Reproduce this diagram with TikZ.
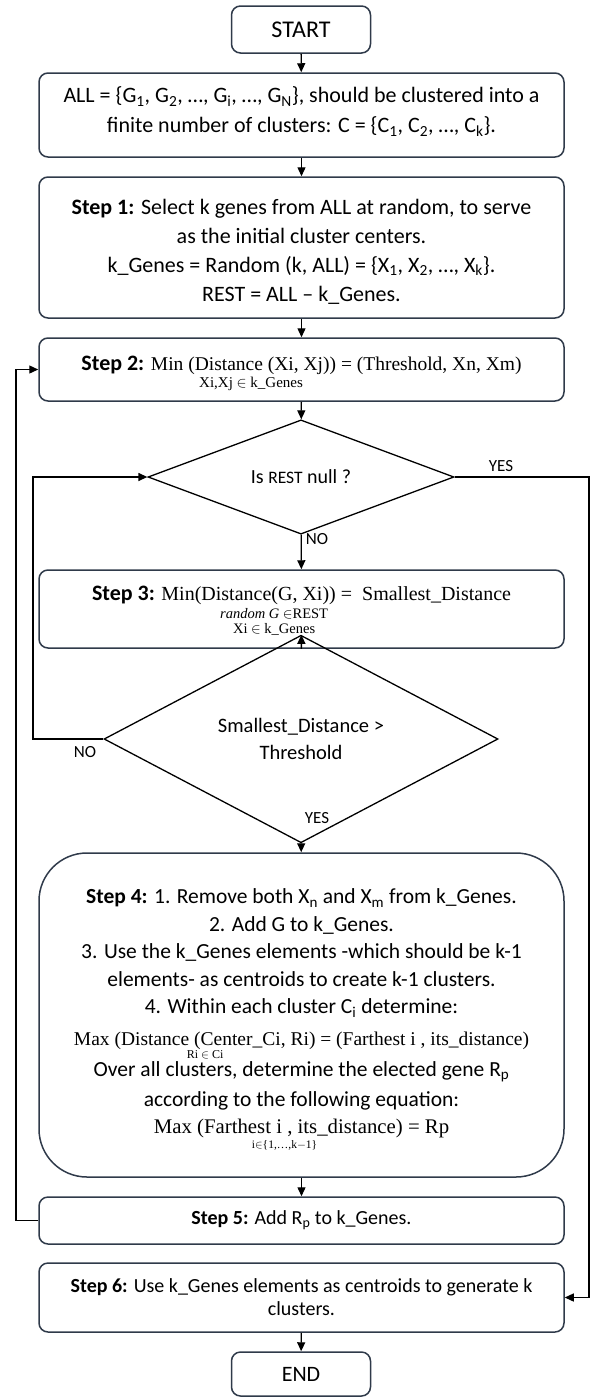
\RequirePackage{fix-cm}
\documentclass[tikz,border=0pt]{standalone}
\usepackage{mathtools}
\usepackage[no-math]{fontspec}
\setmainfont{Carlito}
\newfontfamily\eqfont{Liberation Serif}
\usetikzlibrary{shapes.geometric,arrows.meta}

\definecolor{boxline}{RGB}{47,58,74}

% formulas in a Cambria-like serif
\newcommand{\eqline}[2][19.5]{{\eqfont\fontsize{#1}{22}\selectfont #2}}
\newcommand{\limtext}[2]{\text{\fontsize{#1}{14.5}\selectfont #2}}

\tikzset{
  box/.style={draw=boxline, line width=1.5pt, rounded corners=9pt, minimum width=525pt,
    inner sep=0pt, align=center, font=\fontsize{22}{29}\selectfont},
  term/.style={box, minimum width=139pt, minimum height=47pt},
  decide/.style={diamond, draw, line width=1.3pt, inner sep=0pt, align=center,
    font=\fontsize{20}{26}\selectfont},
  link/.style={line width=1.3pt, -{Triangle[length=9pt,width=8pt]}},
  tag/.style={font=\fontsize{17}{17}\selectfont, inner sep=0pt}
}

\begin{document}
\begin{tikzpicture}[x=1pt,y=-1pt]
  \useasboundingbox (0,0) rectangle (595,1398);

  % Terminals and steps
  \node[term, font=\fontsize{24}{24}\selectfont] (start) at (301,29.5) {START};
  \node[box, minimum height=84pt, font=\fontsize{22}{30}\selectfont] (all) at (301.5,115)
    {ALL = \{G\textsubscript{1}, G\textsubscript{2}, …, G\textsubscript{i}, …, G\textsubscript{N}\}, should be clustered into a\\
     finite number of clusters: C = \{C\textsubscript{1}, C\textsubscript{2}, …, C\textsubscript{k}\}.\rule[-10pt]{0pt}{0pt}};
  \node[box, minimum height=141pt] (step1) at (301.5,247.5)
    {\rule{0pt}{24pt}\textbf{Step 1:} Select k genes from ALL at random, to serve\\
     as the initial cluster centers.\\
     k\_Genes = Random (k, ALL) = \{X\textsubscript{1}, X\textsubscript{2}, …, X\textsubscript{k}\}.\\
     REST = ALL – k\_Genes.};
  \node[box, minimum height=63pt] (step2) at (301.5,369.5)
    {\rule{0pt}{24pt}\textbf{Step 2:} \eqline{$\mathop{\text{Min}}\limits_{\mathrlap{\hspace{32pt}\limtext{15}{\rule{0pt}{13pt}Xi,Xj $\in$ k\_Genes}}}$ (Distance (Xi, Xj)) = (Threshold, Xn, Xm)}};

  % Is REST null ?
  \node[decide, minimum width=306pt, minimum height=82pt] (dec1) at (301,477)
    {Is {\fontsize{17.5}{17.5}\selectfont REST} null ?};

  \node[box, minimum height=78pt] (step3) at (301.5,609)
    {\rule{0pt}{22pt}\textbf{Step 3:} \eqline[20]{$\mathop{\text{Min}}\limits_{\mathrlap{\hspace{42pt}\limtext{14.5}{\rule{0pt}{15pt}\begin{tabular}[t]{@{}c@{}}{\itshape random G} $\in$REST\\ Xi $\in$ k\_Genes\end{tabular}}}}$(Distance(G, Xi)) = \ Smallest\_Distance}};

  % Smallest_Distance > Threshold
  \node[decide, minimum width=394pt, minimum height=128pt, font=\fontsize{20.5}{27}\selectfont] (dec2) at (301,739)
    {Smallest\_Distance >\\ Threshold};

  \node[box, rounded corners=48pt, minimum height=324pt, font=\fontsize{21.5}{27.5}\selectfont] (step4) at (301.5,1015)
    {\rule{0pt}{26pt}\textbf{Step 4:} 1. Remove both X\textsubscript{n} and X\textsubscript{m} from k\_Genes.\\
     2. Add G to k\_Genes.\\
     3. Use the k\_Genes elements -which should be k-1\\
     elements- as centroids to create k-1 clusters.\\
     4. Within each cluster C\textsubscript{i} determine:\\[4pt]
     \eqline{$\mathop{\text{Max}}\limits_{\mathrlap{\hspace{95pt}\limtext{12}{Ri $\in$ Ci}}}$ (Distance (Center\_Ci, Ri) = (Farthest i , its\_distance)}\\[0pt]
     Over all clusters, determine the elected gene R\textsubscript{p}\\[2pt]
     according to the following equation:\\
     \eqline[20.8]{$\mathop{\text{Max}}\limits_{\mathrlap{\hspace{79pt}\limtext{11.5}{\rule{0pt}{11pt}i$\in$\{1,…,k$-$1\}}}}$ (Farthest i , its\_distance) = Rp}};
  \node[box, minimum height=47pt, font=\fontsize{20}{24}\selectfont] (step5) at (301.5,1220.5)
    {\textbf{Step 5:} Add R\textsubscript{p} to k\_Genes.};
  \node[box, minimum height=69pt, font=\fontsize{20}{23}\selectfont] (step6) at (301.5,1297.5)
    {\textbf{Step 6:} Use k\_Genes elements as centroids to generate k\\ clusters.};
  \node[term, minimum height=44pt] (end) at (301,1374) {END};

  % Loop lines
  \coordinate (lout) at (16,0);
  \coordinate (lin) at (33,0);
  \coordinate (rout) at (589,0);

  % Arrows down the middle
  \draw[link] (start) -- (all);
  \draw[link] (all) -- (step1);
  \draw[link] (step1) -- (step2);
  \draw[link] (step2) -- (dec1);
  \draw[link] (dec1) -- (step3);
  \draw[link] (step3) -- (dec2);
  \draw[link] (dec2) -- (step4);
  \draw[link] (step4) -- (step5);
  \draw[link] (step6) -- (end);

  % Loops back and exit
  \draw[link] (step5.west) -- (step5.west -| lout) |- (step2.west);
  \draw[link] (dec2.west) -- (dec2.west -| lin) |- (dec1.west);
  \draw[link] (dec1.east) -- (dec1.east -| rout) |- (step6.east);

  % Labels
  \node[tag] (yes1) at (501,466) {YES};
  \node[tag] (no1) at (317,539) {NO};
  \node[tag] (no2) at (85,752) {NO};
  \node[tag] (yes2) at (317,818) {YES};
\end{tikzpicture}
\end{document}
